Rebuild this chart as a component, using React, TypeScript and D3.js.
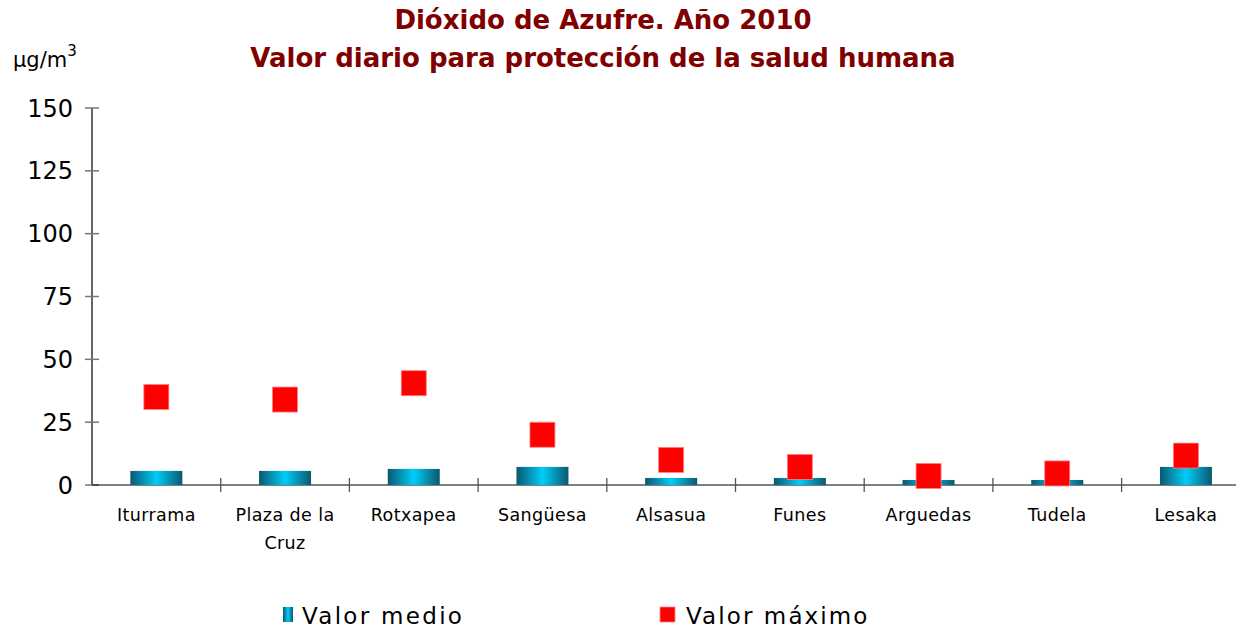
import * as d3 from "d3"

const categories = ["Iturrama", "Plaza de la Cruz", "Rotxapea", "Sangüesa", "Alsasua", "Funes", "Arguedas", "Tudela", "Lesaka"]
const valorMedio = [5.6, 5.6, 6.4, 7.2, 2.8, 2.8, 2, 2, 7.2]
const valorMaximo = [35, 34, 40.5, 20, 10, 7.2, 3.6, 4.6, 11.7]
const yTicks = [0, 25, 50, 75, 100, 125, 150]

const W = 1236
const H = 629
const font = "Verdana, 'DejaVu Sans', sans-serif"

function wrap(label: string, maxChars: number) {
    const words = label.split(" ")
    const lines: string[] = []
    let cur = ""
    for (const w of words) {
        const next = cur ? cur + " " + w : w
        if (next.length > maxChars && cur) {
            lines.push(cur)
            cur = w
        } else cur = next
    }
    lines.push(cur)
    return lines
}

export default function App() {
    const x = d3.scaleBand().domain(categories).range([92, 92 + 9 * 128.7]).padding(0)
    const y = d3.scaleLinear().domain([0, 150]).range([485, 108])
    const barW = 52
    const sq = 25

    return (
        <div>
            <style>{`body{margin:0}`}</style>
            <svg width={W} height={H} style={{ display: "block", background: "#fff" }}>
                <defs>
                    <linearGradient id="barGrad" x1="0" x2="1" y1="0" y2="0">
                        <stop offset="0" stopColor="#0a5870" />
                        <stop offset="0.5" stopColor="#00cdf8" />
                        <stop offset="1" stopColor="#0a5870" />
                    </linearGradient>
                </defs>

                <text x={603} y={29} textAnchor="middle" fontFamily={font} fontWeight="bold" fontSize={26} fill="#800000">
                    Dióxido de Azufre. Año 2010
                </text>
                <text x={603} y={67} textAnchor="middle" fontFamily={font} fontWeight="bold" fontSize={26} fill="#800000">
                    Valor diario para protección de la salud humana
                </text>
                <text x={13} y={67} fontFamily={font} fontSize={21} fill="#000">
                    μg/m<tspan dy={-11} fontSize={15}>3</tspan>
                </text>

                {/* y axis */}
                <line x1={92} x2={92} y1={y(150)} y2={y(0)} stroke="#000" strokeWidth={1.2} />
                {yTicks.map((t) => (
                    <g key={t}>
                        <line x1={85} x2={99} y1={y(t)} y2={y(t)} stroke="#777" strokeWidth={1.5} />
                        <text x={73} y={y(t)} dy="0.36em" textAnchor="end" fontFamily={font} fontSize={24} fill="#000">
                            {t}
                        </text>
                    </g>
                ))}

                {/* x axis */}
                <line x1={92} x2={W} y1={y(0)} y2={y(0)} stroke="#000" strokeWidth={1.2} />
                {categories.map((c, i) =>
                    i === 0 ? null : (
                        <line key={c} x1={x(c)!} x2={x(c)!} y1={478} y2={492} stroke="#555" strokeWidth={1.3} />
                    )
                )}
                {categories.map((c) => {
                    const cx = x(c)! + x.bandwidth() / 2
                    return (
                        <text key={c} x={cx} y={521} textAnchor="middle" fontFamily={font} fontSize={17.5} fill="#000" letterSpacing={0.4}>
                            {wrap(c, 11).map((l, j) => (
                                <tspan key={j} x={cx} dy={j === 0 ? 0 : 28}>
                                    {l}
                                </tspan>
                            ))}
                        </text>
                    )
                })}

                {/* bars */}
                {categories.map((c, i) => {
                    const cx = x(c)! + x.bandwidth() / 2
                    return (
                        <rect key={c} x={cx - barW / 2} y={y(valorMedio[i])} width={barW} height={y(0) - y(valorMedio[i])} fill="url(#barGrad)" />
                    )
                })}

                {/* max markers */}
                {categories.map((c, i) => {
                    const cx = x(c)! + x.bandwidth() / 2
                    return (
                        <rect key={c} x={cx - sq / 2} y={y(valorMaximo[i]) - sq / 2} width={sq} height={sq} fill="#ff0000" stroke="#ff8080" strokeWidth={0.8} />
                    )
                })}

                {/* legend */}
                <g>
                    <rect x={283} y={607} width={10} height={15} fill="url(#barGrad)" />
                    <text x={302} y={624} fontFamily={font} fontSize={23} fill="#000" letterSpacing={2.3}>
                        Valor medio
                    </text>
                    <rect x={660} y={607} width={15} height={15} fill="#ff0000" stroke="#ff8080" strokeWidth={0.8} />
                    <text x={686} y={624} fontFamily={font} fontSize={23} fill="#000" letterSpacing={2.1}>
                        Valor máximo
                    </text>
                </g>
            </svg>
        </div>
    )
}
